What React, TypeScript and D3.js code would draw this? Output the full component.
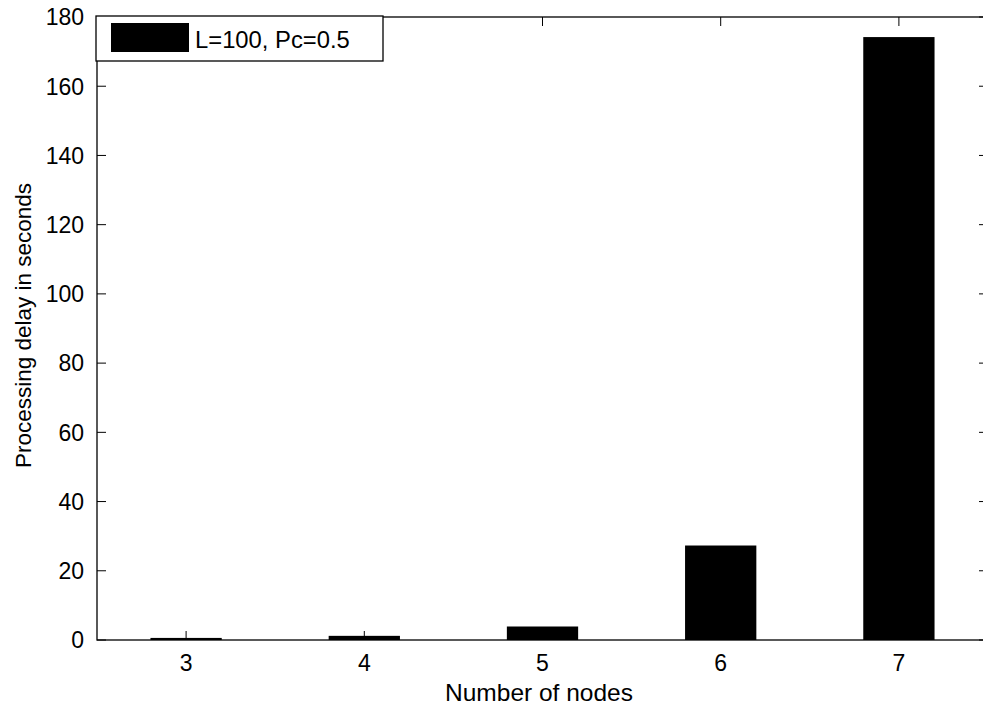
import React from 'react';
import * as d3 from 'd3';

// data
const nodes = [3, 4, 5, 6, 7];
const delay = [0.6, 1.2, 3.9, 27.3, 174.2];
const yTicks = [0, 20, 40, 60, 80, 100, 120, 140, 160, 180];
const legendLabel = 'L=100, Pc=0.5';

const width = 983;
const height = 708;
const left = 97;
const right = 988; // right axis sits just past the picture edge
const top = 17;
const bottom = 640;
const tickLen = 9;
const font = '"Liberation Sans", Arial, sans-serif';

export default function App() {
  const x = d3.scaleLinear().domain([2.5, 7.5]).range([left, right]);
  const y = d3.scaleLinear().domain([0, 180]).range([bottom, top]);
  const barW = x(3.4) - x(3);

  return (
    <svg width={width} height={height} style={{ position: 'absolute', left: 0, top: 0, background: '#fff' }}
      fontFamily={font}>
      <rect width={width} height={height} fill="#fff" />
      {/* ticks go first so the bars hide them */}
      <g stroke="#000" strokeWidth={1}>
        {nodes.map(n => (
          <g key={n}>
            <line x1={x(n)} x2={x(n)} y1={bottom} y2={bottom - tickLen} />
            <line x1={x(n)} x2={x(n)} y1={top} y2={top + tickLen} />
          </g>
        ))}
        {yTicks.map(t => (
          <g key={t}>
            <line x1={left} x2={left + tickLen} y1={y(t)} y2={y(t)} />
            <line x1={right} x2={right - tickLen} y1={y(t)} y2={y(t)} />
          </g>
        ))}
      </g>
      {nodes.map((n, i) => (
        <rect key={n} x={x(n) - barW / 2} y={y(delay[i])} width={barW} height={y(0) - y(delay[i])} fill="#000" />
      ))}
      <rect x={left} y={top} width={right - left} height={bottom - top} fill="none" stroke="#000" strokeWidth={1.3} />
      {nodes.map(n => (
        <text key={n} x={x(n)} y={671} textAnchor="middle" fontSize={23}>{n}</text>
      ))}
      {yTicks.map(t => (
        <text key={t} x={84} y={y(t)} dy="0.36em" textAnchor="end" fontSize={23}>{t}</text>
      ))}
      <text x={539} y={701} textAnchor="middle" fontSize={24.5}>Number of nodes</text>
      <text transform={`translate(31,${(top + bottom) / 2 - 3}) rotate(-90)`} textAnchor="middle" fontSize={22.5}>
        Processing delay in seconds
      </text>
      <g>
        <rect x={96} y={16} width={287} height={45} fill="#fff" stroke="#000" strokeWidth={1.3} />
        <rect x={111} y={23} width={78} height={29} fill="#000" />
        <text x={195} y={48} fontSize={23.8}>{legendLabel}</text>
      </g>
    </svg>
  );
}
